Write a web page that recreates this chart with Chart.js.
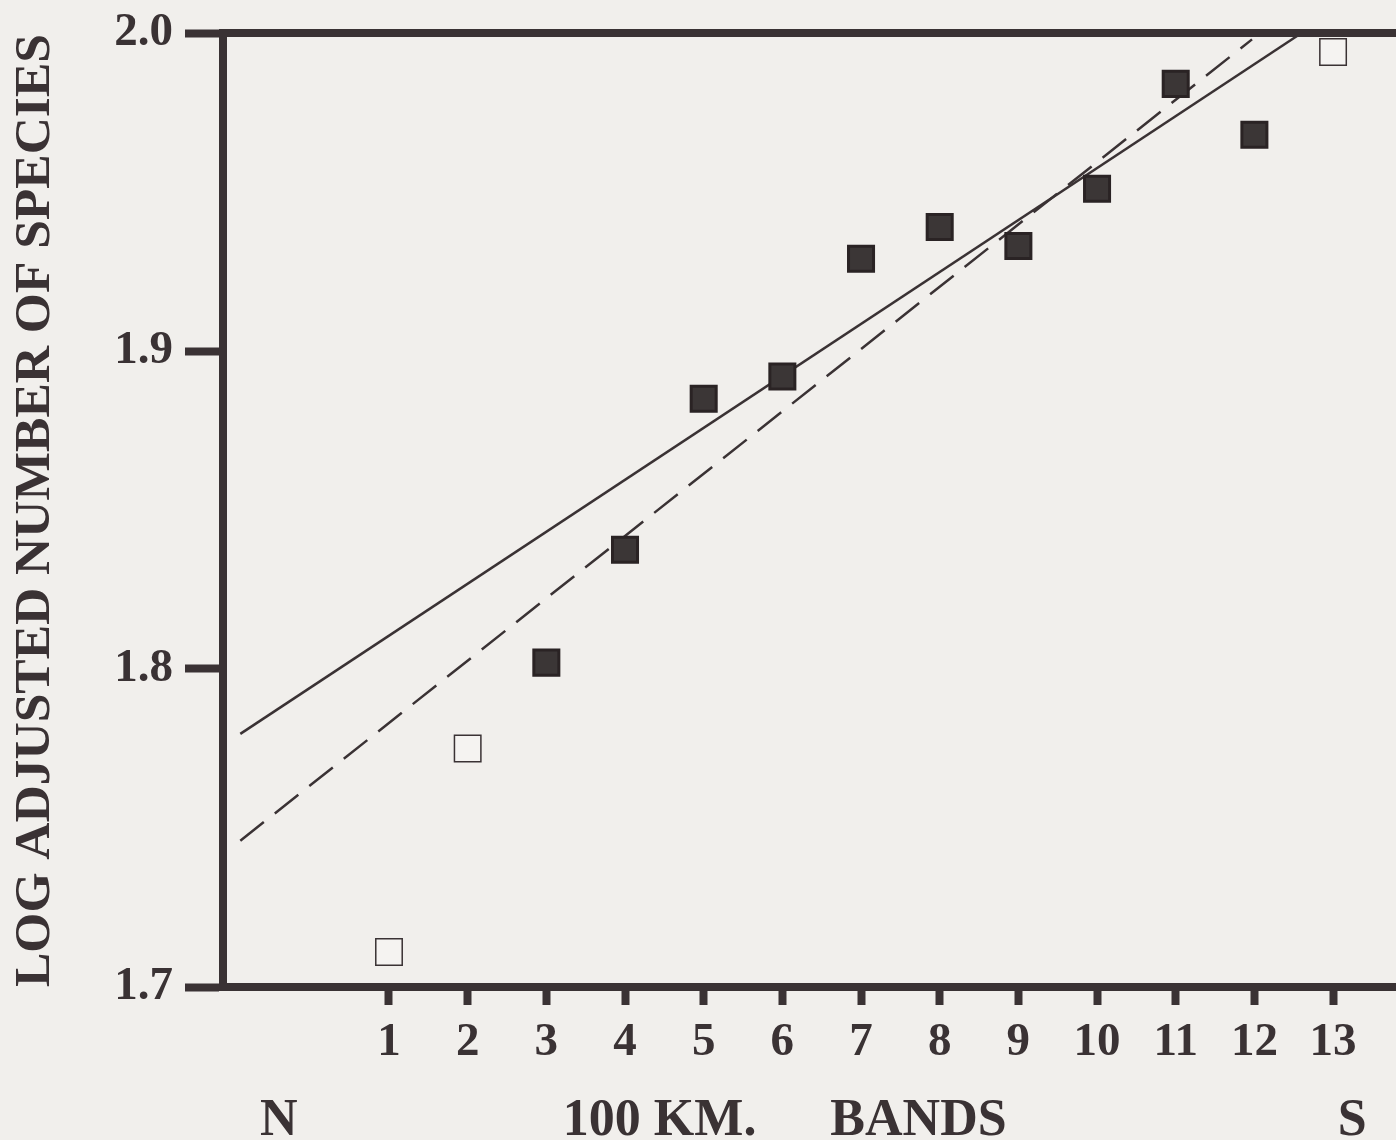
<!DOCTYPE html>
<html>
<head>
<meta charset="utf-8">
<script src="https://cdn.jsdelivr.net/npm/chart.js@4/dist/chart.umd.min.js"></script>
<style>
  html, body { margin: 0; padding: 0; background: #f1efec; }
  canvas { display: block; }
</style>
</head>
<body>
<canvas id="c" width="1396" height="1140"></canvas>
<script>
// ---- data ----
const bands = [1, 2, 3, 4, 5, 6, 7, 8, 9, 10, 11, 12, 13];
const logSpecies = [1.711, 1.775, 1.802, 1.8375, 1.885, 1.892, 1.929, 1.939, 1.933, 1.951, 1.984, 1.968, 1.994];
const openBands = [1, 2, 13];
const yTickValues = [1.7, 1.8, 1.9, 2.0];
const yTickLabels = ['1.7', '1.8', '1.9', '2.0'];
const solidLineX = [-0.89, 12.60];
const solidLineY = [1.7796, 2.0];
const dashedLineX = [-0.89, 11.97];
const dashedLineY = [1.746, 1.998];
const yTitle = 'LOG ADJUSTED NUMBER OF SPECIES';
const bottomLabels = ['N', '100 KM.', 'BANDS', 'S'];
const bottomLabelAt = [-0.64, 3.21, 6.61, 13.06];

const INK = '#3a3234';
const FONT = "'Liberation Serif', 'DejaVu Serif', serif";

const filledPts = [], openPts = [];
bands.forEach((b, i) => {
  (openBands.includes(b) ? openPts : filledPts).push({ x: b, y: logSpecies[i] });
});

const framePlugin = {
  id: 'frame',
  afterDraw(chart) {
    const { ctx, chartArea, scales } = chart;
    const y = scales.y, x = scales.x;
    ctx.save();
    // top border line
    ctx.strokeStyle = INK;
    ctx.lineWidth = 8;
    const yt = y.getPixelForValue(2.0);
    ctx.beginPath();
    ctx.moveTo(chartArea.left - 4, yt);
    ctx.lineTo(chart.width, yt);
    ctx.stroke();
    // bottom labels
    ctx.fillStyle = INK;
    ctx.font = 'bold 52px ' + FONT;
    ctx.textAlign = 'left';
    ctx.textBaseline = 'alphabetic';
    bottomLabels.forEach((t, i) => {
      ctx.fillText(t, x.getPixelForValue(bottomLabelAt[i]), 1135);
    });
    ctx.restore();
  }
};

new Chart(document.getElementById('c'), {
  type: 'scatter',
  data: {
    datasets: [
      {
        label: 'fit',
        data: solidLineX.map((v, i) => ({ x: v, y: solidLineY[i] })),
        showLine: true,
        borderColor: INK,
        borderWidth: 2.5,
        pointRadius: 0,
        order: 3
      },
      {
        label: 'fit2',
        data: dashedLineX.map((v, i) => ({ x: v, y: dashedLineY[i] })),
        showLine: true,
        borderColor: INK,
        borderWidth: 2.5,
        borderDash: [30, 14],
        pointRadius: 0,
        order: 2
      },
      {
        label: 'filled',
        data: filledPts,
        pointStyle: 'rect',
        pointRadius: 17.7,
        backgroundColor: '#3b3636',
        borderColor: '#2a2324',
        borderWidth: 3,
        order: 1
      },
      {
        label: 'open',
        data: openPts,
        pointStyle: 'rect',
        pointRadius: 18.7,
        backgroundColor: '#f5f3f1',
        borderColor: INK,
        borderWidth: 1.5,
        order: 0
      }
    ]
  },
  options: {
    responsive: false,
    animation: false,
    clip: false,
    layout: { autoPadding: false, padding: { top: 33, left: 0, right: 0, bottom: 0 } },
    plugins: { legend: { display: false }, tooltip: { enabled: false } },
    scales: {
      x: {
        type: 'linear',
        min: -1.11,
        max: 13.80,
        afterBuildTicks: s => { s.ticks = bands.map(v => ({ value: v })); },
        afterFit: s => { s.height = 153; s.paddingLeft = 0; s.paddingRight = 0; },
        grid: { drawOnChartArea: false, drawTicks: true, tickLength: 18, tickWidth: 8, tickColor: INK },
        border: { display: true, color: INK, width: 8 },
        ticks: {
          color: INK,
          padding: 10,
          maxRotation: 0,
          autoSkip: false,
          font: { family: FONT, size: 47, weight: 'bold' },
          callback: v => String(v)
        }
      },
      y: {
        type: 'linear',
        min: 1.7,
        max: 2.0,
        afterBuildTicks: s => { s.ticks = yTickValues.map(v => ({ value: v })); },
        afterFit: s => { s.width = 223; s.paddingTop = 0; s.paddingBottom = 0; },
        grid: { drawOnChartArea: false, drawTicks: true, tickLength: 38, tickWidth: 8, tickColor: INK },
        border: { display: true, color: INK, width: 8 },
        ticks: {
          color: INK,
          padding: 12,
          font: { family: FONT, size: 47, weight: 'bold' },
          callback: (v) => yTickLabels[yTickValues.findIndex(t => Math.abs(t - v) < 1e-6)]
        },
        title: {
          display: true,
          text: yTitle,
          color: INK,
          align: 'start',
          padding: { top: 5, bottom: 0 },
          font: { family: FONT, size: 51.5, weight: 'bold' }
        }
      }
    }
  },
  plugins: [framePlugin]
});
</script>
</body>
</html>
